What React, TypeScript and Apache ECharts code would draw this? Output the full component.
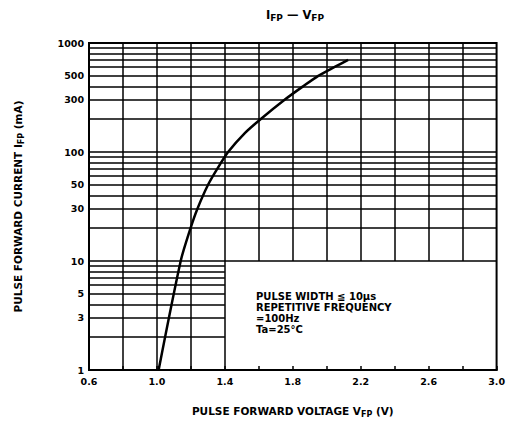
import React, { useEffect, useRef } from 'react';
import * as echarts from 'echarts';

const voltage = [1.01, 1.14, 1.198, 1.238, 1.301, 1.355, 1.419, 1.519, 1.61, 1.75, 1.86, 1.95, 2.044, 2.126];
const current = [1, 10, 20, 30, 50, 70, 100, 150, 200, 300, 400, 500, 600, 700];

const xGridFull = [0.8, 1.0, 1.2, 1.4];
const xGridUpper = [1.6, 1.8, 2.0, 2.2, 2.4, 2.6, 2.8];
const yGridLow = [2, 3, 4, 5, 6, 7, 8, 9];
const yGridFull = [10, 20, 30, 40, 50, 60, 70, 80, 90, 100, 200, 300, 400, 500, 600, 700, 800, 900];
const yTickLabels = [1, 3, 5, 10, 30, 50, 100, 300, 500, 1000];
const xTickLabels = ['0.6', '1.0', '1.4', '1.8', '2.2', '2.6', '3.0'];
const noteLines = ['PULSE WIDTH \u2266 10\u03bcs', 'REPETITIVE FREQUENCY', '=100Hz', 'Ta=25\u00b0C'];

const FONT = '"DejaVu Sans", "Liberation Sans", Arial, sans-serif';

export default function App() {
  const ref = useRef<HTMLDivElement>(null);
  useEffect(() => {
    if (!ref.current) return;
    const chart = echarts.init(ref.current, null, { renderer: 'svg' });
    const X_MIN = 0.6, X_MAX = 3.0, Y_MIN = 1, Y_MAX = 1000;
    const gridLines: any[] = [];
    xGridFull.forEach((x) => gridLines.push([{ coord: [x, Y_MIN] }, { coord: [x, Y_MAX] }]));
    xGridUpper.forEach((x) => gridLines.push([{ coord: [x, 10] }, { coord: [x, Y_MAX] }]));
    yGridLow.forEach((y) => gridLines.push([{ coord: [X_MIN, y] }, { coord: [1.4, y] }]));
    yGridFull.forEach((y) => gridLines.push([{ coord: [X_MIN, y] }, { coord: [X_MAX, y] }]));

    const richName = {
      m: { fontSize: 10.5, fontWeight: 'bold', fontFamily: FONT, color: '#000', lineHeight: 14 },
      s: { fontSize: 8, fontWeight: 'bold', fontFamily: FONT, color: '#000', lineHeight: 14, verticalAlign: 'bottom', padding: [5, 0, 0, 0] },
    };

    chart.setOption({
      animation: false,
      backgroundColor: '#fff',
      grid: { left: 89, right: 7, top: 43, bottom: 53, show: true, borderColor: '#000', borderWidth: 2 },
      xAxis: {
        type: 'value',
        min: X_MIN,
        max: X_MAX,
        interval: 0.2,
        splitLine: { show: false },
        axisLine: { show: true, lineStyle: { color: '#000', width: 2 } },
        axisTick: { show: true, inside: true, length: 4, lineStyle: { color: '#000', width: 1.5 } },
        axisLabel: {
          color: '#000', fontSize: 9.5, fontWeight: 'bold', fontFamily: FONT, margin: 6,
          formatter: (v: number) => {
            const k = Math.round(v * 10);
            const s = (k / 10).toFixed(1);
            return xTickLabels.indexOf(s) >= 0 ? s : '';
          },
        },
        name: '{m|PULSE FORWARD VOLTAGE V}{s|FP}{m| (V)}',
        nameLocation: 'middle',
        nameGap: 34,
        nameTextStyle: { rich: richName },
      },
      yAxis: {
        type: 'log',
        logBase: 10,
        min: Y_MIN,
        max: Y_MAX,
        splitLine: { show: false },
        axisLine: { show: true, lineStyle: { color: '#000', width: 2 } },
        axisTick: { show: false },
        axisLabel: {
          color: '#000', fontSize: 9.5, fontWeight: 'bold', fontFamily: FONT, margin: 5,
          customValues: yTickLabels,
          formatter: (v: number) => String(Math.round(v)),
        },
        name: '{m|PULSE FORWARD CURRENT I}{s|FP}{m| (mA)}',
        nameLocation: 'middle',
        nameRotate: 90,
        nameGap: 64,
        nameTextStyle: { rich: richName },
      },
      graphic: [
        {
          type: 'text',
          x: 295,
          y: 15,
          style: {
            text: '{m|I}{s|FP}{m| \u2014 V}{s|FP}',
            align: 'center',
            verticalAlign: 'middle',
            rich: {
              m: { fontSize: 11.5, fontWeight: 'bold', fontFamily: FONT, fill: '#000', lineHeight: 15 },
              s: { fontSize: 9, fontWeight: 'bold', fontFamily: FONT, fill: '#000', lineHeight: 15, verticalAlign: 'bottom', padding: [5, 0, 0, 0] },
            },
          },
        },
        {
          type: 'text',
          x: 256,
          y: 291,
          style: {
            text: noteLines.join('\n'),
            fontSize: 10,
            fontWeight: 'bold',
            fontFamily: FONT,
            fill: '#000',
            lineHeight: 11,
          },
        },
      ],
      series: [
        {
          type: 'line',
          data: voltage.map((v, i) => [v, current[i]]),
          smooth: 0.25,
          symbol: 'none',
          lineStyle: { color: '#000', width: 2.5 },
          silent: true,
          z: 5,
          markLine: {
            silent: true,
            symbol: ['none', 'none'],
            label: { show: false },
            lineStyle: { color: '#000', width: 1.5, type: 'solid' },
            emphasis: { disabled: true },
            data: gridLines,
          },
        },
      ],
    });
    return () => chart.dispose();
  }, []);
  return <div ref={ref} style={{ position: 'fixed', left: 0, top: 0, width: 508, height: 423, background: '#fff' }} />;
}
